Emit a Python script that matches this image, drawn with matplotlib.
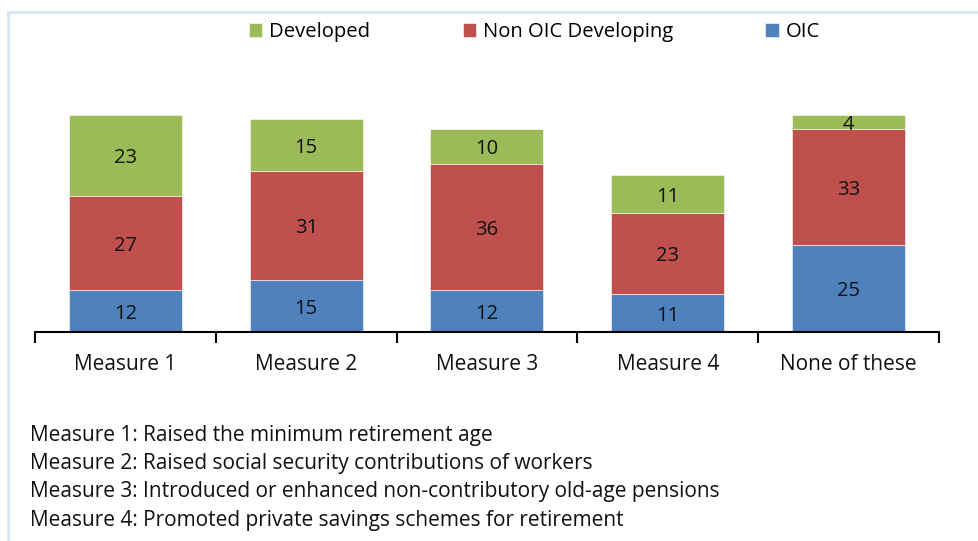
import matplotlib.pyplot as plt
from matplotlib.patches import Rectangle
import numpy as np

plt.rcParams['font.family'] = ['Open Sans', 'DejaVu Sans']

categories = ["Measure 1", "Measure 2", "Measure 3", "Measure 4", "None of these"]
oic = [12, 15, 12, 11, 25]
non_oic = [27, 31, 36, 23, 33]
developed = [23, 15, 10, 11, 4]

notes = [
    "Measure 1: Raised the minimum retirement age",
    "Measure 2: Raised social security contributions of workers",
    "Measure 3: Introduced or enhanced non-contributory old-age pensions",
    "Measure 4: Promoted private savings schemes for retirement",
]

c_blue = "#4f81bd"
c_red = "#c0504d"
c_green = "#9bbb59"

W, H = 979, 541
fig = plt.figure(figsize=(W / 100, H / 100), dpi=100)
ax = fig.add_axes([35 / W, (H - 332) / H, 904 / W, 245 / H])

x = np.arange(len(categories))
oic_a = np.array(oic)
non_a = np.array(non_oic)
dev_a = np.array(developed)

bw = 0.625
b1 = ax.bar(x, oic_a, bw, color=c_blue, edgecolor="white", linewidth=0.4, label="OIC")
b2 = ax.bar(x, non_a, bw, bottom=oic_a, color=c_red, edgecolor="white", linewidth=0.4,
            label="Non OIC Developing")
b3 = ax.bar(x, dev_a, bw, bottom=oic_a + non_a, color=c_green, edgecolor="white",
            linewidth=0.4, label="Developed")

for bars in (b1, b2, b3):
    labels = ax.bar_label(bars, label_type="center", fontsize=14.5, color="#111111")
    for t in labels:
        t.xyann = (0, -2)

ax.set_xlim(-0.5, 4.5)
ax.set_ylim(0, 70)
ax.set_yticks([])
for s in ("top", "right", "left"):
    ax.spines[s].set_visible(False)
ax.spines["bottom"].set_linewidth(1.5)

ax.set_xticks(x)
ax.set_xticklabels(categories, fontsize=15, color="#111111")
ax.tick_params(axis="x", which="major", length=0, pad=16)
ax.set_xticks(np.arange(-0.5, 5, 1), minor=True)
ax.tick_params(axis="x", which="minor", length=8, width=1.5, direction="out")

ax.legend(handles=[b3, b2, b1], loc="center left", bbox_to_anchor=(249 / W, 1 - 32 / H),
          bbox_transform=fig.transFigure, ncol=3, frameon=False, fontsize=14.6,
          handlelength=0.65, handleheight=0.65, handletextpad=0.35, columnspacing=4.55,
          borderpad=0, borderaxespad=0)

# light border around the chart area
fig.patches.append(Rectangle((8 / W, -0.2), 1.2, 1.2 - 12 / H, transform=fig.transFigure,
                             fill=False, edgecolor="#dbe5f1", linewidth=2))

for i, line in enumerate(notes):
    fig.text(30 / W, 1 - (435 + 28.5 * i) / H, line, fontsize=15, va="center",
             ha="left", color="#111111")

fig.savefig("out.png", dpi=100)
